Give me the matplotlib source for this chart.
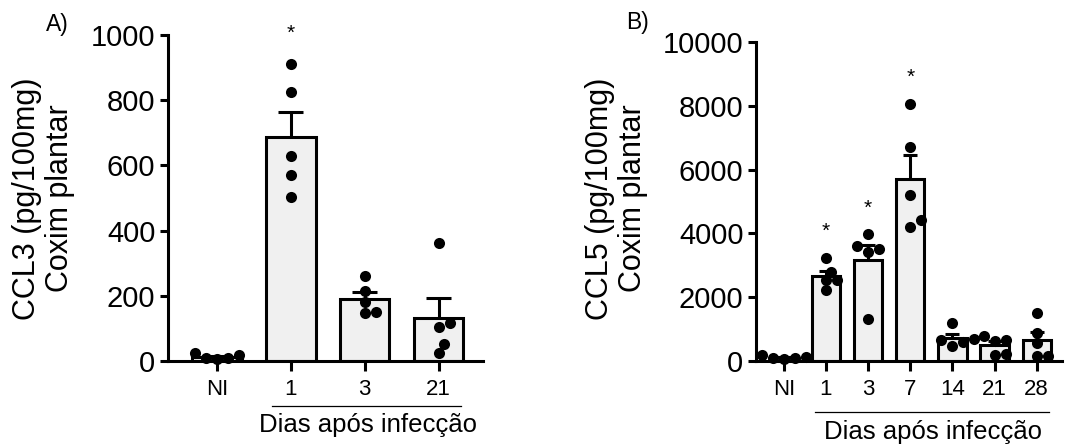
import numpy as np
import matplotlib
matplotlib.use("Agg")
import matplotlib.pyplot as plt
import matplotlib.transforms as mtrans

plt.rcParams['font.family'] = ['Liberation Sans', 'DejaVu Sans']

# painel A - CCL3
grupos_a = ["NI", "1", "3", "21"]
ccl3_ni = [25, 10, 5, 8, 18]
ccl3_d1 = [911, 825, 629, 570, 504]
ccl3_d3 = [261, 216, 182, 146, 150]
ccl3_d21 = [362, 117, 104, 52, 25]
sig_a = [False, True, False, False]

# painel B - CCL5
grupos_b = ["NI", "1", "3", "7", "14", "21", "28"]
ccl5_ni = [200, 80, 60, 120, 100]
ccl5_d1 = [3230, 2800, 2540, 2540, 2230]
ccl5_d3 = [3970, 3590, 3500, 3430, 1310]
ccl5_d7 = [8070, 6700, 5200, 4420, 4200]
ccl5_d14 = [1180, 700, 650, 600, 470]
ccl5_d21 = [780, 650, 640, 220, 190]
ccl5_d28 = [1500, 870, 570, 150, 150]
sig_b = [False, True, True, True, False, False, False]

LW = 2.2
BARW = 0.67
FILL = '#f0f0f0'


def swarm(ax, x0, vals, d=11):
    # coloca os pontos lado a lado quando se sobrepõem (em pixels)
    pts = ax.transData.transform([(x0, v) for v in vals])
    order = np.argsort(pts[:, 1])
    placed = []
    out = [None] * len(vals)
    for i in order:
        px, py = pts[i]
        k = 0
        while True:
            cands = [0] if k == 0 else [k * d / 2, -k * d / 2]
            ok = None
            for c in cands:
                if all((px + c - qx) ** 2 + (py - qy) ** 2 >= (d * 0.82) ** 2 for qx, qy in placed):
                    ok = c
                    break
            if ok is not None:
                placed.append((px + ok, py))
                out[i] = (px + ok, py)
                break
            k += 1
    return ax.transData.inverted().transform(out)


def painel(ax, grupos, dados, sig, ymax, ystep, star_off, lab_y, txt_y, ylabel, fx):
    n = len(grupos)
    x = np.arange(n)
    ax.set_xlim(-0.66, n - 1 + 0.6)
    ax.set_ylim(0, ymax)
    medias = [np.mean(v) for v in dados]
    sems = [np.std(v, ddof=1) / np.sqrt(len(v)) for v in dados]
    ax.bar(x, medias, width=BARW, color=FILL, edgecolor='black', linewidth=LW, zorder=2)
    for i in range(n):
        top = medias[i] + sems[i]
        ax.plot([x[i], x[i]], [medias[i], top], color='black', lw=LW, zorder=1, solid_capstyle='butt')
        ax.plot([x[i] - BARW / 4, x[i] + BARW / 4], [top, top], color='black', lw=LW, zorder=1, solid_capstyle='butt')
        xy = swarm(ax, x[i], dados[i])
        ax.scatter(xy[:, 0], xy[:, 1], s=64, color='black', zorder=4, clip_on=False, linewidths=0)
        if sig[i]:
            ax.text(x[i], max(dados[i]) + star_off, '*', ha='center', va='center', fontsize=15, clip_on=False)
    ax.set_xticks(x)
    ax.set_xticklabels(grupos, fontsize=16)
    ax.set_yticks(np.arange(0, ymax + 1, ystep))
    ax.tick_params(axis='y', labelsize=21, width=LW, length=6, pad=3)
    ax.tick_params(axis='x', width=LW, length=7, pad=6)
    for s in ['top', 'right']:
        ax.spines[s].set_visible(False)
    for s in ['left', 'bottom']:
        ax.spines[s].set_linewidth(LW)
    tr = mtrans.blended_transform_factory(ax.transData, ax.transAxes)
    ax.plot([1 - 0.25, n - 1 + 0.3], [lab_y, lab_y], color='black', lw=0.9, transform=tr, clip_on=False)
    ax.text((1 + n - 1) / 2 + 0.05, txt_y, 'Dias após infecção', transform=tr, ha='center', va='center', fontsize=18.5)
    fig.text(fx, 0.556, ylabel, rotation=90, ha='center', va='center', multialignment='center', fontsize=22, linespacing=1.15)


fig = plt.figure(figsize=(10.73, 4.47), dpi=100)
ax_a = fig.add_axes([168 / 1073, 1 - 361 / 447, 315 / 1073, 326 / 447])
ax_b = fig.add_axes([756 / 1073, 1 - 361 / 447, 306 / 1073, 319 / 447])

painel(ax_a, grupos_a, [ccl3_ni, ccl3_d1, ccl3_d3, ccl3_d21], sig_a, 1000, 200, 95,
       -0.138, -0.196, 'CCL3 (pg/100mg)\nCoxim plantar', 43.5 / 1073)
painel(ax_b, grupos_b, [ccl5_ni, ccl5_d1, ccl5_d3, ccl5_d7, ccl5_d14, ccl5_d21, ccl5_d28], sig_b, 10000, 2000, 830,
       -0.16, -0.223, 'CCL5 (pg/100mg)\nCoxim plantar', 616.5 / 1073)

fig.text(57 / 1073, 1 - 25 / 447, 'A)', ha='center', va='center', fontsize=16.5)
fig.text(637 / 1073, 1 - 22 / 447, 'B)', ha='center', va='center', fontsize=16.5)

fig.savefig('out.png', dpi=100)
